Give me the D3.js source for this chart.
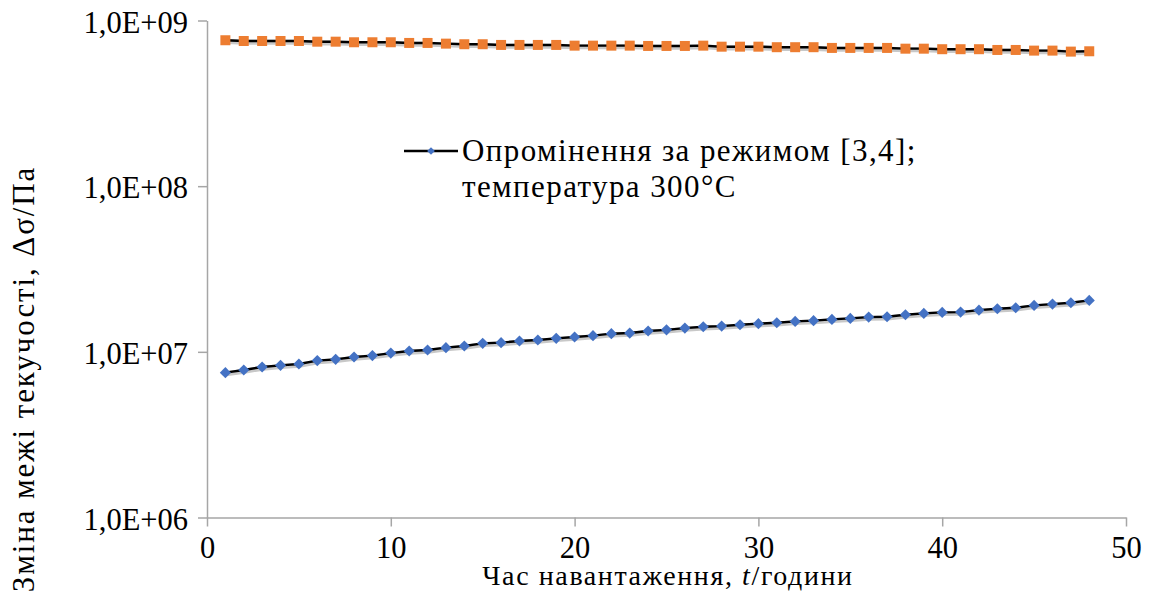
<!DOCTYPE html>
<html>
<head>
<meta charset="utf-8">
<script src="https://cdn.jsdelivr.net/npm/d3@7"></script>
<style>
  body { margin: 0; background: #fff; }
  svg text { font-family: "Liberation Serif", "Times New Roman", serif; fill: #000; }
</style>
</head>
<body>
<div id="chart"></div>
<script>
// Data
const hours = d3.range(1, 49);

const irradiated = [
    7.49e6, 7.77e6, 8.10e6, 8.29e6, 8.44e6, 8.85e6, 9.01e6, 9.30e6, 9.49e6, 9.83e6,
    1.011e7, 1.025e7, 1.060e7, 1.084e7, 1.125e7, 1.136e7, 1.162e7, 1.178e7, 1.206e7, 1.228e7,
    1.252e7, 1.287e7, 1.298e7, 1.335e7, 1.357e7, 1.391e7, 1.418e7, 1.430e7, 1.458e7, 1.479e7,
    1.499e7, 1.527e7, 1.542e7, 1.570e7, 1.592e7, 1.621e7, 1.629e7, 1.675e7, 1.706e7, 1.730e7,
    1.737e7, 1.785e7, 1.820e7, 1.846e7, 1.906e7, 1.941e7, 1.979e7, 2.043e7
];

const upper = [
    7.60e8, 7.52e8, 7.52e8, 7.52e8, 7.52e8, 7.45e8, 7.45e8, 7.39e8, 7.39e8, 7.39e8,
    7.32e8, 7.32e8, 7.25e8, 7.19e8, 7.19e8, 7.12e8, 7.12e8, 7.12e8, 7.12e8, 7.05e8,
    7.05e8, 7.05e8, 7.05e8, 7.02e8, 7.02e8, 7.02e8, 7.05e8, 6.95e8, 6.95e8, 6.95e8,
    6.90e8, 6.90e8, 6.90e8, 6.83e8, 6.83e8, 6.83e8, 6.83e8, 6.76e8, 6.76e8, 6.71e8,
    6.71e8, 6.71e8, 6.64e8, 6.64e8, 6.58e8, 6.58e8, 6.49e8, 6.52e8
];

const xTicks = [0, 10, 20, 30, 40, 50];
const yTicks = [1e6, 1e7, 1e8, 1e9];
const yTickLabels = ["1,0E+06", "1,0E+07", "1,0E+08", "1,0E+09"];
const legendLines = ["Опромінення за режимом [3,4];", "температура 300°C"];

const serif = "'Liberation Serif', 'Times New Roman', serif";
const width = 1154, height = 592;
const margin = { top: 20.5, right: 28, bottom: 74.5, left: 207 };

const svg = d3.select("#chart").append("svg")
    .attr("width", width)
    .attr("height", height);

const x = d3.scaleLinear().domain([0, 50]).range([margin.left, width - margin.right]);
const y = d3.scaleLog().domain([1e6, 1e9]).range([height - margin.bottom, margin.top]);

// Axes
const yAxis = svg.append("g")
    .attr("transform", `translate(${margin.left},0)`)
    .call(d3.axisLeft(y).tickValues(yTicks).tickSize(9).tickSizeOuter(0)
        .tickFormat((d, i) => yTickLabels[i]));

const xAxis = svg.append("g")
    .attr("transform", `translate(0,${height - margin.bottom})`)
    .call(d3.axisBottom(x).tickValues(xTicks).tickSize(9).tickSizeOuter(0));

[xAxis, yAxis].forEach(a => {
    a.attr("font-family", null).attr("font-size", null);
    a.select(".domain").attr("stroke", "#a6a6a6").attr("stroke-width", 1.5);
    a.selectAll(".tick line").attr("stroke", "#a6a6a6").attr("stroke-width", 1.5);
    a.selectAll(".tick text")
        .style("font-family", serif)
        .style("font-size", "30.5px")
        .attr("fill", "#000");
});
yAxis.selectAll(".tick text").attr("x", -19).attr("dy", "0.38em");
xAxis.selectAll(".tick text").attr("y", 19);

// Series
const line = d3.line().x((d, i) => x(hours[i])).y(d => y(d));

function drawSeries(values, color, symbol, size, rotate) {
    svg.append("path")
        .datum(values)
        .attr("fill", "none")
        .attr("stroke", "#c8c8c8")
        .attr("stroke-width", 5)
        .attr("transform", "translate(0.8,1.2)")
        .attr("d", line);
    svg.append("path")
        .datum(values)
        .attr("fill", "none")
        .attr("stroke", "#000")
        .attr("stroke-width", 2.4)
        .attr("d", line);
    svg.append("g").selectAll("path")
        .data(values)
        .enter()
        .append("path")
        .attr("transform", (d, i) => `translate(${x(hours[i])},${y(d)}) rotate(${rotate})`)
        .attr("d", d3.symbol().type(symbol).size(size))
        .attr("fill", color);
}

drawSeries(upper, "#ed7d31", d3.symbolSquare, 100, 0);
drawSeries(irradiated, "#4472c4", d3.symbolSquare, 62, 45);

// Legend
const legend = svg.append("g").attr("transform", "translate(404,151)");
legend.append("line")
    .attr("x1", 0).attr("x2", 54)
    .attr("stroke", "#000").attr("stroke-width", 2.4);
legend.append("path")
    .attr("transform", "translate(27,0) rotate(45)")
    .attr("d", d3.symbol().type(d3.symbolSquare).size(30))
    .attr("fill", "#4472c4");
legend.append("text")
    .attr("x", 58)
    .attr("y", 10)
    .style("font-family", serif)
    .style("font-size", "31px")
    .style("letter-spacing", "1.4px")
    .selectAll("tspan")
    .data(legendLines)
    .enter()
    .append("tspan")
    .attr("x", 58)
    .attr("dy", (d, i) => i === 0 ? 0 : 36)
    .text(d => d);

// Axis titles
const xTitle = svg.append("text")
    .attr("x", 668)
    .attr("y", 585)
    .attr("text-anchor", "middle")
    .style("font-family", serif)
    .style("font-size", "28px")
    .style("letter-spacing", "1.6px");
xTitle.append("tspan").text("Час навантаження, ");
xTitle.append("tspan").style("font-style", "italic").text("t");
xTitle.append("tspan").text("/години");

svg.append("text")
    .attr("transform", "translate(34,379) rotate(-90)")
    .attr("text-anchor", "middle")
    .style("font-family", serif)
    .style("font-size", "31px")
    .style("letter-spacing", "1.9px")
    .text("Зміна межі текучості, Δσ/Па");
</script>
</body>
</html>
